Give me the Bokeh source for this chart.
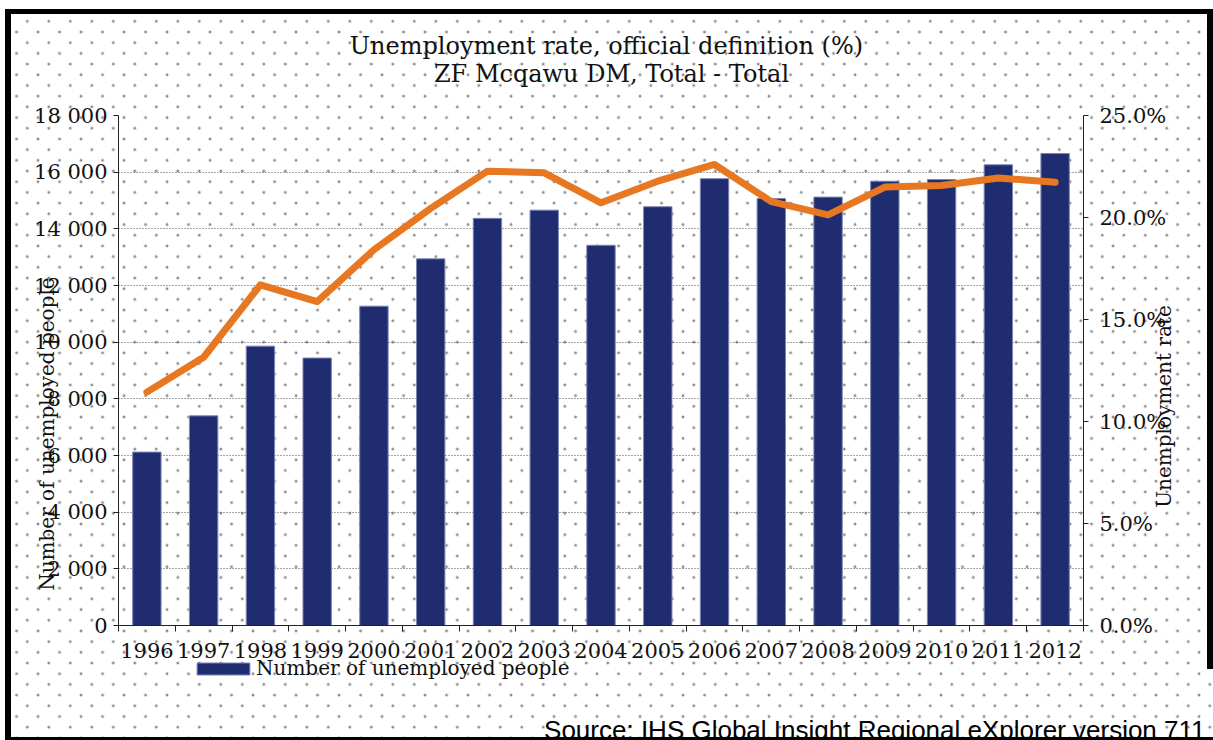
from bokeh.plotting import figure
from bokeh.layouts import column
from bokeh.models import (Range1d, LinearAxis, FixedTicker, Label, Spacer,
                          PrintfTickFormatter, Legend, LegendItem, InlineStyleSheet,
                          ColumnDataSource, Grid)
from bokeh.embed import file_html
from bokeh.resources import INLINE
import math

# ---------------- data ----------------
years = ["1996", "1997", "1998", "1999", "2000", "2001", "2002", "2003", "2004",
         "2005", "2006", "2007", "2008", "2009", "2010", "2011", "2012"]
unemployed = [6120, 7400, 9860, 9440, 11270, 12940, 14370, 14660, 13420,
              14780, 15770, 15070, 15120, 15680, 15740, 16260, 16660]
rate = [11.44, 13.15, 16.70, 15.88, 18.42, 20.45, 22.27, 22.19, 20.72,
        21.78, 22.60, 20.78, 20.13, 21.49, 21.57, 21.94, 21.73]

count_ticks = [0, 2000, 4000, 6000, 8000, 10000, 12000, 14000, 16000, 18000]
count_tick_labels = ["0", "2 000", "4 000", "6 000", "8 000", "10 000",
                     "12 000", "14 000", "16 000", "18 000"]
rate_ticks = [0, 5, 10, 15, 20, 25]

title_line1 = "Unemployment rate, official definition (%)"
title_line2 = "ZF Mcqawu DM, Total - Total"
left_label = "Number of unemployed people"
right_label = "Unemployment rate"
legend_label = "Number of unemployed people"
source_text = "Source: IHS Global Insight Regional eXplorer version 711"

# ---------------- styles ----------------
SERIF = "DejaVu Serif"
NAVY = "#1f2c6f"
BAR_EDGE = "#7d86b5"
ORANGE = "#e87722"
TXT = "#111111"
NBSP = "\u00a0"
W = 1213
H_HEAD, H_MAIN, H_REST = 100, 569, 71
FOOT_TOP, H_FOOT = 650, 90

n = len(years)
centers = [i + 0.5 for i in range(n)]
edges = list(range(n + 1))
source = ColumnDataSource(dict(x=centers, year=years, count=unemployed, rate=rate))


def strip(height, width=W, y_range=(-2, -1)):
    f = figure(width=width, height=height, output_backend="svg", toolbar_location=None,
               x_range=Range1d(0, n), y_range=Range1d(*y_range),
               x_axis_location=None, y_axis_location=None,
               min_border=0, min_border_left=0, min_border_right=0,
               min_border_top=0, min_border_bottom=0)
    f.frame_align = False
    f.background_fill_alpha = 0
    f.border_fill_alpha = 0
    f.outline_line_color = None
    for g in f.grid:
        g.visible = False
    return f


# ================= header: titles =================
head = strip(H_HEAD)
head.add_layout(Label(x=606, y=H_HEAD - 45, x_units="screen", y_units="screen",
                      text=title_line1, text_font=SERIF, text_font_size="24px",
                      text_align="center", text_baseline="middle", text_color=TXT))
head.add_layout(Label(x=611, y=H_HEAD - 73, x_units="screen", y_units="screen",
                      text=title_line2, text_font=SERIF, text_font_size="24px",
                      text_align="center", text_baseline="middle", text_color=TXT))

# ================= main chart =================
p = figure(width=W, height=H_MAIN, output_backend="svg", toolbar_location=None,
           x_range=Range1d(0, n), y_range=Range1d(0, count_ticks[-1]),
           x_axis_location=None, y_axis_location=None,
           min_border_left=118, min_border_right=130,
           min_border_top=15, min_border_bottom=44)
p.extra_y_ranges = {"rate": Range1d(0, rate_ticks[-1])}
p.background_fill_alpha = 0
p.border_fill_alpha = 0
p.outline_line_color = None
for g in p.grid:
    g.visible = False

grid = Grid(dimension=1, ticker=FixedTicker(ticks=count_ticks),
            grid_line_color="#4d4d4d", grid_line_dash="1 2", grid_line_width=1)
p.add_layout(grid, "center")

tick_font = "21px"
yax = LinearAxis(ticker=FixedTicker(ticks=count_ticks),
                 major_label_overrides={t: l for t, l in zip(count_ticks, count_tick_labels)})
yax.major_label_text_font = SERIF
yax.major_label_text_font_size = tick_font
yax.major_label_text_color = TXT
yax.major_tick_in = 0
yax.major_tick_out = 5
yax.minor_tick_out = 0
yax.minor_tick_in = 0
yax.major_label_standoff = 6
yax.axis_line_color = "#222222"
yax.major_tick_line_color = "#222222"
yax.axis_label = left_label + NBSP * 20
yax.axis_label_text_font = SERIF
yax.axis_label_text_font_size = "20px"
yax.axis_label_text_font_style = "normal"
yax.axis_label_text_color = TXT
yax.axis_label_standoff = -28
p.add_layout(yax, "left")

rax = LinearAxis(y_range_name="rate", ticker=FixedTicker(ticks=rate_ticks),
                 formatter=PrintfTickFormatter(format="%.1f%%"))
rax.major_label_text_font = SERIF
rax.major_label_text_font_size = tick_font
rax.major_label_text_color = TXT
rax.major_tick_in = 0
rax.major_tick_out = 5
rax.minor_tick_out = 0
rax.minor_tick_in = 0
rax.major_label_standoff = 11
rax.axis_line_color = "#222222"
rax.major_tick_line_color = "#222222"
p.add_layout(rax, "right")

# x axis: year labels at centres (major), tick marks between categories (minor)
xax = LinearAxis(ticker=FixedTicker(ticks=centers, minor_ticks=edges),
                 major_label_overrides={c: y for c, y in zip(centers, years)})
xax.axis_line_color = "#222222"
xax.major_tick_out = 0
xax.major_tick_in = 0
xax.minor_tick_in = 0
xax.minor_tick_out = 6
xax.minor_tick_line_color = "#222222"
xax.major_label_standoff = 11
xax.major_label_text_font = SERIF
xax.major_label_text_font_size = tick_font
xax.major_label_text_color = TXT
p.add_layout(xax, "below")

bars = p.vbar(x="x", top="count", width=0.5, source=source,
              fill_color=NAVY, line_color=BAR_EDGE, line_width=1)
line = p.line(x="x", y="rate", source=source, y_range_name="rate",
              line_color=ORANGE, line_width=7, line_join="round", line_cap="round")

# ================= footer (overlaid): legend + source =================
foot = strip(H_FOOT, y_range=(1e6, 1e6 + 1))
# same bar series, mapped far outside this strip's visible range, only to supply the legend key
key = foot.vbar(x="x", top="count", width=0.5, source=source,
                fill_color=NAVY, line_color=BAR_EDGE, line_width=1)
legend = Legend(items=[LegendItem(label=legend_label, renderers=[key])],
                location=(190, 60), orientation="horizontal",
                padding=0, margin=0, spacing=0, label_standoff=0,
                glyph_width=66, glyph_height=15,
                label_text_font=SERIF, label_text_font_size="20px",
                label_text_color=TXT,
                background_fill_alpha=0, border_line_alpha=0)
foot.add_layout(legend, "center")
foot.add_layout(Label(x=1205, y=11, x_units="screen", y_units="screen", text=source_text,
                      text_font="Liberation Sans", text_font_size="26px",
                      text_align="right", text_baseline="alphabetic", text_color="#000000"))
foot.styles = {"position": "absolute", "left": "0px", "top": "%dpx" % FOOT_TOP}

# ================= right axis title (overlaid) =================
rlab = strip(240, width=48)
rlab.add_layout(Label(x=24, y=120, x_units="screen", y_units="screen", text=right_label,
                      angle=math.pi / 2, text_font=SERIF, text_font_size="20px",
                      text_align="center", text_baseline="middle", text_color=TXT))
rlab.styles = {"position": "absolute", "left": "1139px", "top": "286px"}

rest = Spacer(width=W, height=H_REST)

css = """
:host {
  position: relative;
  background-color: #ffffff;
  background-image:
    linear-gradient(#000, #000),
    linear-gradient(#000, #000),
    linear-gradient(#000, #000),
    linear-gradient(#000, #000),
    linear-gradient(#fff, #fff),
    linear-gradient(#fff, #fff),
    radial-gradient(circle, #8c8c8c 0.8px, rgba(140,140,140,0.45) 1.4px, rgba(255,255,255,0) 1.9px),
    radial-gradient(circle, #8c8c8c 0.8px, rgba(140,140,140,0.45) 1.4px, rgba(255,255,255,0) 1.9px);
  background-size: 6px 731px, 1208px 5px, 6px 660px, 1208px 3px, 100% 9px, 5px 100%, 21.5px 21.4px, 21.5px 21.4px;
  background-position: 5px 9px, 5px 9px, 1207px 9px, 5px 737px, 0 0, 0 0, 16.55px 10.6px, 5.8px 21.3px;
  background-repeat: no-repeat, no-repeat, no-repeat, no-repeat, no-repeat, no-repeat, repeat, repeat;
}
"""
page = column(head, p, rest, foot, rlab, spacing=0)
page.stylesheets = [InlineStyleSheet(css=css)]

open("out.html", "w").write(file_html(page, INLINE))
